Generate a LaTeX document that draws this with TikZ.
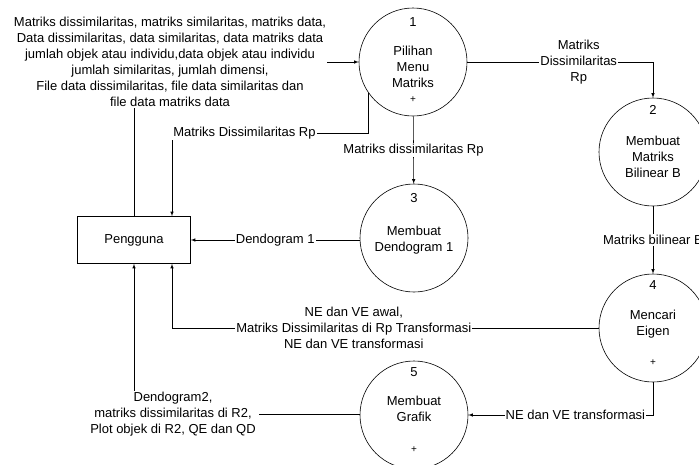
\documentclass[tikz,border=0pt]{standalone}
\usepackage{fontspec}
\setmainfont{Liberation Sans}
\usetikzlibrary{positioning}
\tikzset{
  proc/.style={draw,circle,minimum size=108pt,inner sep=0pt},
  ent/.style={draw,minimum width=113pt,minimum height=47pt,inner sep=0pt},
  lbl/.style={fill=white,inner sep=1pt,align=center},
  plus/.style={font=\fontsize{10}{11}\selectfont}
}
\begin{document}
\begin{tikzpicture}[>=latex,x=1pt,y=-1pt,font=\fontsize{13}{16}\selectfont,line width=.6pt]
\useasboundingbox (0,0) rectangle (699,464);
% entitas dan proses
\node[ent] (user) at (134,240) {Pengguna};
\node[proc] (p1) at (413,62) {};
\node[proc] (p2) at (653,152) {};
\node[proc] (p3) at (414,238) {};
\node[proc] (p4) at (653,328) {};
\node[proc] (p5) at (414,415) {};
\node at (413,22) {1};
\node[align=center] at (413,67) {Pilihan\\Menu\\Matriks};
\node[plus] at (413,100) {+};
\node at (653,110) {2};
\node[align=center] at (653,157) {Membuat\\Matriks\\Bilinear B};
\node at (414,198) {3};
\node[align=center] at (414,240) {Membuat\\Dendogram 1};
\node at (653,285) {4};
\node[align=center] at (653,324) {Mencari\\Eigen};
\node[plus] at (653,363) {+};
\node at (414,372) {5};
\node[align=center] at (414,409) {Membuat\\Grafik};
\node[plus] at (414,450) {+};
% aliran data
\node[lbl] (inputs) at (170,62) {Matriks dissimilaritas, matriks similaritas, matriks data,\\Data dissimilaritas, data similaritas, data matriks data\\jumlah objek atau individu,data objek atau individu\\jumlah similaritas, jumlah dimensi,\\File data dissimilaritas, file data similaritas dan\\file data matriks data};
\draw (user.north) -- (user.north |- inputs.south);
\draw[->] (inputs.east) -- (inputs.east -| p1.west);
\coordinate (c1) at ([xshift=38pt]user.north |- 0,133);
\draw[->] (p1.215) |- (c1) -- (c1 |- user.north);
\node[lbl,anchor=west] at (c1) {Matriks Dissimilaritas Rp};
\draw[->] (p1) -- node[lbl]{Matriks dissimilaritas Rp} (p3);
\draw[->] (p1) -| node[lbl,pos=.3]{Matriks\\Dissimilaritas\\Rp} (p2);
\draw[->] (p2) -- node[lbl]{Matriks bilinear B} (p4);
\draw[->] (p3.west |- user.east) -- node[lbl]{Dendogram 1} (user.east);
\draw[->] (p4) -| node[lbl,pos=.287]{NE dan VE awal,\\Matriks Dissimilaritas di Rp Transformasi\\NE dan VE transformasi} ([xshift=38pt]user.south);
\draw[->] (p4) |- node[lbl,pos=.71]{NE dan VE transformasi} (p5);
\node[lbl] (outs) at (173,414) {Dendogram2,\\matriks dissimilaritas di R2,\\Plot objek di R2, QE dan QD};
\draw (p5.west |- outs.east) -- ([xshift=2pt]outs.east);
\draw[->] (outs.north -| user.south) -- (user.south);
\end{tikzpicture}
\end{document}
